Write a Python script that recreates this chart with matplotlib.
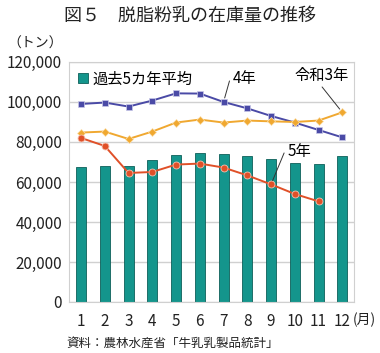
import numpy as np
import matplotlib.pyplot as plt
from matplotlib.ticker import FuncFormatter

plt.rcParams['font.family'] = ['Noto Sans CJK JP', 'DejaVu Sans']

months = [1, 2, 3, 4, 5, 6, 7, 8, 9, 10, 11, 12]
avg5 = [67300, 68000, 67800, 70800, 73700, 74300, 73800, 73200, 71300, 69300, 69000, 73000]
r4 = [99000, 99700, 97700, 100700, 104300, 104200, 100000, 96800, 93000, 89700, 86000, 82300]
r3 = [84700, 85200, 81500, 85200, 89700, 91200, 89700, 90700, 90300, 90000, 90700, 94800]
r5 = [82000, 78000, 64500, 65000, 68700, 69200, 67200, 63300, 58800, 54000, 50300]

fig = plt.figure(figsize=(3.8, 3.53), dpi=100)
ax = fig.add_axes([0.182, 0.1445, 0.75, 0.68])

ax.bar(months, avg5, width=0.42, color='#14958c', edgecolor='#0d5f59', linewidth=0.6,
       label='過去5カ年平均', zorder=2)
ax.plot(months, r4, '-s', color='#4a4aa6', ms=5, mec='#c8c8e8', mew=0.5, lw=1.4, zorder=3)
ax.plot(months, r3, '-D', color='#f0a830', ms=4, mec='#fbe0b0', mew=0.5, lw=1.4, zorder=3)
ax.plot(months[:len(r5)], r5, '-o', color='#e05028', ms=5, mec='#f5c0b0', mew=0.6, lw=1.4, zorder=3)

ax.set_xlim(0.5, 12.5)
ax.set_ylim(0, 120000)
ax.set_yticks(np.arange(0, 120001, 20000))
ax.yaxis.set_major_formatter(FuncFormatter(lambda v, p: f'{int(v):,}'))
ax.set_xticks(months)
ax.grid(axis='y', color='#d0d0d0', lw=1, zorder=0)
for s in ax.spines.values():
    s.set_color('#d0d0d0')
ax.tick_params(length=0, labelsize=11, colors='#222222', pad=8)
ax.tick_params(axis='y', pad=5)

leg = ax.legend(loc='upper left', frameon=False, fontsize=11, handlelength=0.7,
                handleheight=0.7, handletextpad=0.3, borderaxespad=0.15)

# leader lines: from just beside each label to its point
arrow = dict(arrowstyle='-', color='#333333', lw=0.7, shrinkA=0, shrinkB=3, patchA=None)
ax.annotate('', xy=(7, r4[6]), xytext=(7.25, 110500), arrowprops=arrow, zorder=4)
ax.text(7.4, 111500, '4年', fontsize=11, va='center')
ax.annotate('', xy=(12, r3[11]), xytext=(11.15, 107500), arrowprops=arrow, zorder=4)
ax.text(9.97, 113000, '令和3年', fontsize=11, va='center')
ax.annotate('', xy=(9, r5[8]), xytext=(9.55, 74500), arrowprops=arrow, zorder=4)
ax.text(9.68, 75000, '5年', fontsize=11, va='center')

fig.text(0.5, 0.955, '図５　脱脂粉乳の在庫量の推移', ha='center', va='center',
         fontsize=13, color='#222222')
fig.text(0.093, 0.875, '（トン）', ha='center', va='center', fontsize=10, color='#222222')
fig.text(0.929, 0.093, '(月)', ha='left', va='center', fontsize=10, color='#222222')
fig.text(0.174, 0.028, '資料：農林水産省「牛乳乳製品統計」', ha='left', va='center',
         fontsize=9, color='#222222')

fig.savefig('out.png', dpi=100)
